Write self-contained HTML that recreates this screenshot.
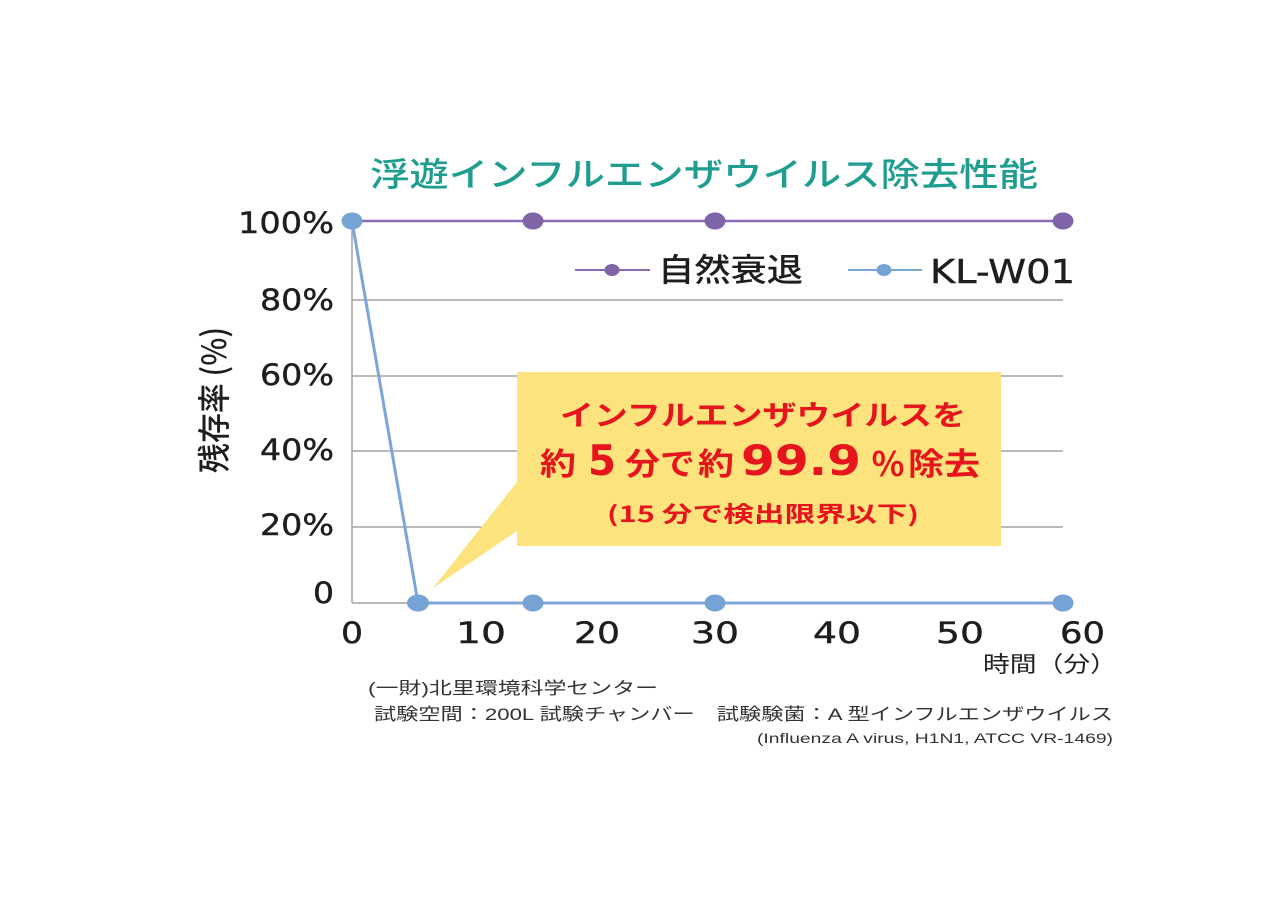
<!DOCTYPE html>
<html><head><meta charset="utf-8">
<style>
html,body{margin:0;padding:0;background:#fff;}
svg{display:block;}
.jp{font-family:"Liberation Sans","Noto Sans CJK JP",sans-serif;}
.num{font-family:"DejaVu Sans","Liberation Sans",sans-serif;}
</style></head>
<body>
<svg width="1280" height="906" viewBox="0 0 1280 906" xmlns="http://www.w3.org/2000/svg">
<rect width="1280" height="906" fill="#fff"/>
<!-- title -->
<text x="370" y="186" font-size="33" fill="#1f9e90" textLength="668" lengthAdjust="spacingAndGlyphs" style="font-family:'Noto Sans CJK JP',sans-serif;font-weight:500">浮遊インフルエンザウイルス除去性能</text>

<!-- gridlines -->
<g stroke="#a3a3a3" stroke-width="1.5">
<line x1="352" y1="300" x2="1063" y2="300"/>
<line x1="352" y1="376" x2="1063" y2="376"/>
<line x1="352" y1="451" x2="1063" y2="451"/>
<line x1="352" y1="527" x2="1063" y2="527"/>
<line x1="352" y1="603" x2="1063" y2="603"/>
<line x1="352" y1="221" x2="352" y2="603"/>
</g>

<!-- y labels -->
<g class="num" font-size="29" fill="#1e1e1e" stroke="#1e1e1e" stroke-width="0.4">
<text x="238" y="233" textLength="96" lengthAdjust="spacingAndGlyphs">100%</text>
<text x="260" y="310" textLength="74" lengthAdjust="spacingAndGlyphs">80%</text>
<text x="260" y="385" textLength="74" lengthAdjust="spacingAndGlyphs">60%</text>
<text x="260" y="460" textLength="74" lengthAdjust="spacingAndGlyphs">40%</text>
<text x="260" y="535" textLength="74" lengthAdjust="spacingAndGlyphs">20%</text>
<text x="313" y="603" textLength="21" lengthAdjust="spacingAndGlyphs">0</text>
</g>

<!-- y axis title -->
<text transform="translate(226,473) rotate(-90)" x="0" y="0" font-size="33" fill="#1e1e1e" textLength="146" lengthAdjust="spacingAndGlyphs" style="font-family:'Noto Sans CJK JP',sans-serif;font-weight:500">残存率 (%)</text>

<!-- x labels -->
<g class="num" font-size="29" fill="#1e1e1e" stroke="#1e1e1e" stroke-width="0.4">
<text x="341" y="643" textLength="22" lengthAdjust="spacingAndGlyphs">0</text>
<text x="456" y="643" textLength="50" lengthAdjust="spacingAndGlyphs">10</text>
<text x="574" y="643" textLength="46" lengthAdjust="spacingAndGlyphs">20</text>
<text x="691" y="643" textLength="48" lengthAdjust="spacingAndGlyphs">30</text>
<text x="813" y="643" textLength="48" lengthAdjust="spacingAndGlyphs">40</text>
<text x="936" y="643" textLength="48" lengthAdjust="spacingAndGlyphs">50</text>
<text x="1060" y="643" textLength="45" lengthAdjust="spacingAndGlyphs">60</text>
</g>
<text x="983" y="672" font-size="22" fill="#222" textLength="134" lengthAdjust="spacingAndGlyphs" style="font-family:'Noto Sans CJK JP',sans-serif">時間（分）</text>

<!-- callout -->
<polygon points="517,482 433,588 517,531" fill="#fde37e"/>
<rect x="517" y="372" width="484" height="174" fill="#fde37e"/>
<g fill="#e5141d" style="font-family:'Noto Sans CJK JP',sans-serif;font-weight:700">
<text x="560" y="425" font-size="28" textLength="406" lengthAdjust="spacingAndGlyphs">インフルエンザウイルスを</text>
<text x="540" y="475" font-size="31" textLength="36" lengthAdjust="spacingAndGlyphs">約</text>
<text x="625" y="475" font-size="31" textLength="70" lengthAdjust="spacingAndGlyphs">分で</text>
<text x="698" y="475" font-size="31" textLength="36" lengthAdjust="spacingAndGlyphs">約</text>
<text x="871" y="476" font-size="33" textLength="34" lengthAdjust="spacingAndGlyphs">％</text>
<text x="908" y="475" font-size="31" textLength="72" lengthAdjust="spacingAndGlyphs">除去</text>
<text x="607" y="522" font-size="22" textLength="312" lengthAdjust="spacingAndGlyphs">(15 分で検出限界以下)</text>
</g>
<g fill="#e5141d" font-size="42" font-weight="700" class="num">
<text x="588" y="475" textLength="28" lengthAdjust="spacingAndGlyphs">5</text>
<text x="741" y="475" textLength="120" lengthAdjust="spacingAndGlyphs">99.9</text>
</g>

<!-- series: natural decay (purple) -->
<polyline points="352,221 533,221 715,221 1063,221" fill="none" stroke="#8b6bb1" stroke-width="2.5"/>
<g fill="#8064a8">
<ellipse cx="533" cy="221" rx="10.5" ry="8.5"/>
<ellipse cx="715" cy="221" rx="10.5" ry="8.5"/>
<ellipse cx="1063" cy="221" rx="10.5" ry="8.5"/>
</g>

<!-- series: KL-W01 (blue) -->
<polyline points="352,221 418,603 533,603 715,603 1063,603" fill="none" stroke="#7ca6d7" stroke-width="3"/>
<g fill="#76a3d6">
<ellipse cx="352" cy="221" rx="10.5" ry="8.5"/>
<ellipse cx="418" cy="603" rx="11" ry="8.5"/>
<ellipse cx="533" cy="603" rx="10.5" ry="8.5"/>
<ellipse cx="715" cy="603" rx="10.5" ry="8.5"/>
<ellipse cx="1063" cy="603" rx="10.5" ry="8.5"/>
</g>

<!-- legend -->
<line x1="575" y1="270" x2="650" y2="270" stroke="#8b6bb1" stroke-width="2"/>
<ellipse cx="612" cy="270" rx="7.5" ry="6" fill="#8064a8"/>
<text x="658" y="281" font-size="32" fill="#1e1e1e" textLength="145" lengthAdjust="spacingAndGlyphs" style="font-family:'Noto Sans CJK JP',sans-serif;font-weight:500">自然衰退</text>
<line x1="848" y1="270" x2="922" y2="270" stroke="#7ca6d7" stroke-width="2"/>
<ellipse cx="884" cy="270" rx="7.5" ry="6" fill="#76a3d6"/>
<text class="num" x="930" y="283" font-size="33" fill="#1e1e1e" stroke="#1e1e1e" stroke-width="0.4" textLength="145" lengthAdjust="spacingAndGlyphs">KL-W01</text>

<!-- footer -->
<g fill="#333" style="font-family:'Liberation Sans','Noto Sans CJK JP',sans-serif">
<text x="368" y="694" font-size="17" textLength="290" lengthAdjust="spacingAndGlyphs">(一財)北里環境科学センター</text>
<text x="374" y="720" font-size="17" textLength="739" lengthAdjust="spacingAndGlyphs">試験空間：200L 試験チャンバー　試験験菌：A 型インフルエンザウイルス</text>
<text x="757" y="743" font-size="14" textLength="356" lengthAdjust="spacingAndGlyphs">(Influenza A virus, H1N1, ATCC VR-1469)</text>
</g>
</svg>
</body></html>
